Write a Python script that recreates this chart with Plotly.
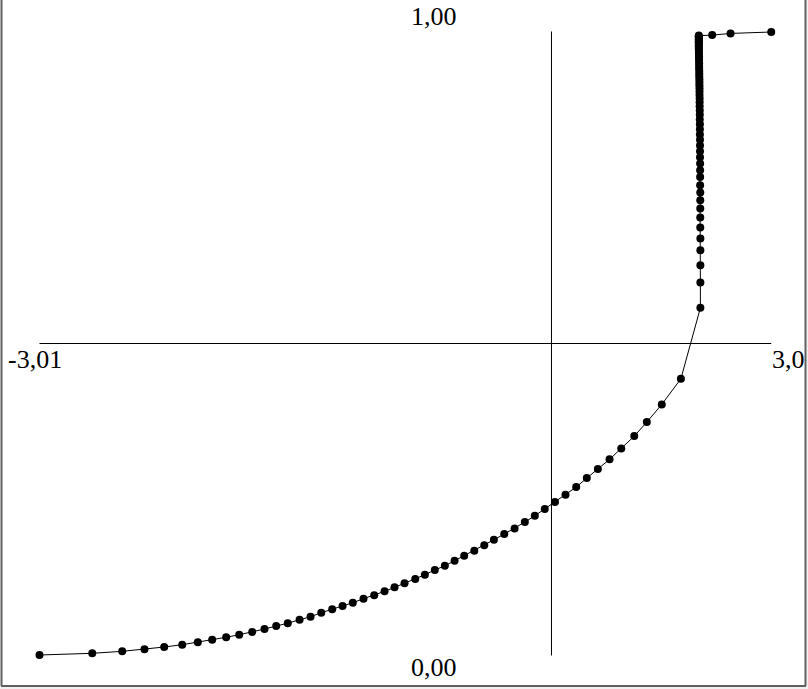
import plotly.graph_objects as go

# curve points (x from -3.01 to 3.0, y from 0 to 1)
x_lower = [-3.010, -2.577, -2.331, -2.148, -1.986, -1.838, -1.710, -1.592, -1.477, -1.370,
           -1.263, -1.162, -1.066, -0.971, -0.874, -0.784, -0.696, -0.606, -0.521, -0.437,
           -0.349, -0.261, -0.176, -0.094, -0.012, 0.076, 0.155, 0.237, 0.319, 0.399,
           0.478, 0.561, 0.643, 0.722, 0.807, 0.892, 0.976, 1.058, 1.140, 1.224,
           1.310, 1.398, 1.485, 1.576, 1.672, 1.768, 1.875, 1.978, 2.101, 2.258]
y_lower = [0.0008, 0.0035, 0.0067, 0.0099, 0.0136, 0.0173, 0.0211, 0.0253, 0.0292, 0.0333,
           0.0376, 0.0424, 0.0473, 0.0516, 0.0573, 0.0621, 0.0686, 0.0740, 0.0793, 0.0846,
           0.0910, 0.0964, 0.1028, 0.1092, 0.1157, 0.1225, 0.1294, 0.1370, 0.1438, 0.1518,
           0.1599, 0.1679, 0.1765, 0.1855, 0.1946, 0.2037, 0.2138, 0.2239, 0.2347, 0.2459,
           0.2576, 0.2699, 0.2843, 0.2987, 0.3143, 0.3319, 0.3516, 0.3740, 0.4024, 0.4434]

# the near-vertical stack of points on the right
x_column = [2.418, 2.418, 2.418, 2.418, 2.418, 2.417, 2.417, 2.417, 2.417, 2.417,
            2.416, 2.416, 2.416, 2.416, 2.415, 2.415, 2.415, 2.415, 2.414, 2.414,
            2.414, 2.413, 2.413, 2.413, 2.412, 2.412, 2.412, 2.411, 2.411, 2.411,
            2.410, 2.410, 2.410, 2.409, 2.409, 2.409, 2.408, 2.408, 2.408, 2.407,
            2.407, 2.407, 2.406, 2.406, 2.406, 2.405, 2.405, 2.405, 2.405, 2.405,
            2.405, 2.405, 2.405, 2.405, 2.405, 2.405, 2.405]
y_column = [0.5571, 0.5978, 0.6255, 0.6495, 0.6683, 0.6859, 0.7019, 0.7163, 0.7296, 0.7420,
            0.7537, 0.7669, 0.7777, 0.7884, 0.7985, 0.8081, 0.8174, 0.8264, 0.8350, 0.8434,
            0.8514, 0.8590, 0.8664, 0.8735, 0.8802, 0.8866, 0.8927, 0.8984, 0.9039, 0.9090,
            0.9138, 0.9186, 0.9234, 0.9279, 0.9322, 0.9366, 0.9407, 0.9449, 0.9487, 0.9526,
            0.9563, 0.9598, 0.9632, 0.9664, 0.9694, 0.9723, 0.9750, 0.9776, 0.9800, 0.9822,
            0.9843, 0.9862, 0.9880, 0.9896, 0.9910, 0.9923, 0.9934]

x_upper = [2.515, 2.666, 3.000]
y_upper = [0.9942, 0.9969, 0.9992]

# range labels and cross lines
x_min, x_max = -3.01, 3.0
y_min, y_max = 0.0, 1.0
y_cross = 0.5
x_cross = 1.195
x_min_label, x_max_label = "-3,01", "3,0"
y_min_label, y_max_label = "0,00", "1,00"

xs = x_lower + x_column + x_upper
ys = y_lower + y_column + y_upper

W, H = 808, 689

fig = go.Figure()
fig.add_trace(go.Scatter(x=xs, y=ys, mode='lines+markers',
                         line=dict(color='black', width=1),
                         marker=dict(color='black', size=8),
                         hoverinfo='skip', showlegend=False))

# cross lines
fig.add_shape(type='line', x0=x_min, x1=x_max, y0=y_cross, y1=y_cross,
              line=dict(color='black', width=1), layer='below')
fig.add_shape(type='line', x0=x_cross, x1=x_cross, y0=y_min, y1=y_max,
              line=dict(color='black', width=1), layer='below')

# window frame (left, right, bottom)
frame = dict(color='#606060', width=2)
fig.add_shape(type='rect', xref='paper', yref='paper', x0=806.5 / W, x1=1, y0=0, y1=1,
              fillcolor='#f0f0f0', line=dict(width=0), layer='below')
fig.add_shape(type='rect', xref='paper', yref='paper', x0=0, x1=1, y0=0, y1=1 - 687 / H,
              fillcolor='#f0f0f0', line=dict(width=0), layer='below')
fig.add_shape(type='line', xref='paper', yref='paper', x0=1.5 / W, x1=1.5 / W, y0=1 - 686 / H, y1=1,
              line=frame)
fig.add_shape(type='line', xref='paper', yref='paper', x0=805.5 / W, x1=805.5 / W, y0=1 - 686 / H, y1=1,
              line=frame)
fig.add_shape(type='line', xref='paper', yref='paper', x0=1 / W, x1=806 / W, y0=1 - 686 / H, y1=1 - 686 / H,
              line=frame)

font = dict(family='Liberation Serif, Times New Roman, serif', size=26, color='black')
labels = [
    (x_min_label, 6, 359, 'left'),
    (x_max_label, 770, 359, 'left'),
    (y_min_label, 409, 667, 'left'),
    (y_max_label, 409, 17, 'left'),
]
for text, px, py, anchor in labels:
    fig.add_annotation(text=text, xref='paper', yref='paper', x=px / W, y=1 - py / H,
                       xanchor=anchor, yanchor='middle', showarrow=False, font=font)

# ranges chosen so the cross lines land on whole pixels (551, 343)
fig.update_xaxes(visible=False, range=[-3.3347, 3.3020], fixedrange=True)
fig.update_yaxes(visible=False, range=[-0.05369, 1.05048], fixedrange=True)

fig.update_layout(
    width=W, height=H,
    margin=dict(l=0, r=0, t=0, b=0),
    plot_bgcolor='white',
    paper_bgcolor='white',
)

# drop the browser's default body margin so the figure sits at the page corner
fig.write_html("out.html", config={'displayModeBar': False},
               post_script="document.body.style.margin='0';document.body.style.overflow='hidden';")
